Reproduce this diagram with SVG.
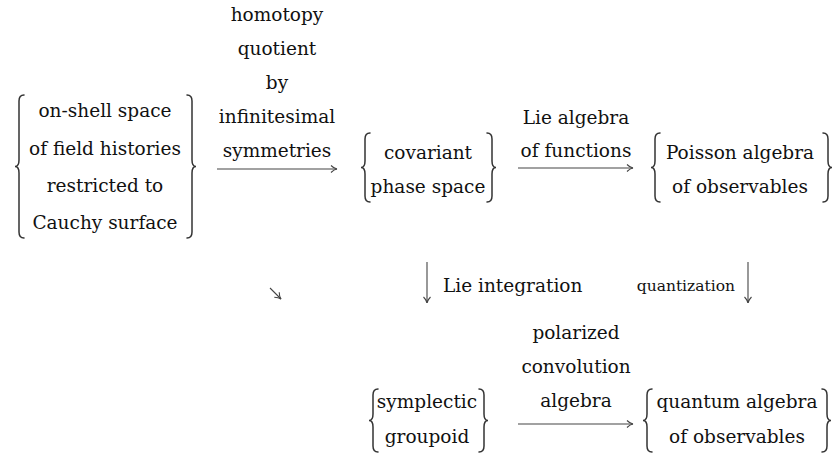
<svg xmlns="http://www.w3.org/2000/svg" width="838" height="455" viewBox="0 0 838 455">
<style>
  text { font-family: "DejaVu Serif", "Liberation Serif", serif; font-size: 18.5px; fill: #111; }
  .c { text-anchor: middle; }
  .sm { font-size: 15.5px; }
  .brace { fill: none; stroke: #333; stroke-width: 1.5; stroke-linecap: round; }
  .arr { fill: none; stroke: #444; stroke-width: 1.1; }
</style>
<defs>
  <marker id="ah" markerWidth="10" markerHeight="10" refX="8" refY="5" orient="auto" markerUnits="userSpaceOnUse">
    <path d="M2,1.5 Q5,4.5 8,5 Q5,5.5 2,8.5" fill="none" stroke="#444" stroke-width="1.1"/>
  </marker>
</defs>
<rect width="838" height="455" fill="#ffffff"/>

<g id="node-onshell">
  <path class="brace" d="M24,95 Q19,95 19,101 L19,160 Q19,166.5 15,166.5 Q19,166.5 19,173 L19,232 Q19,238 24,238"/>
  <path class="brace" d="M187,95 Q192,95 192,101 L192,160 Q192,166.5 196,166.5 Q192,166.5 192,173 L192,232 Q192,238 187,238"/>
  <text class="c" x="105" y="117">on-shell space</text>
  <text class="c" x="105" y="155">of field histories</text>
  <text class="c" x="105" y="192">restricted to</text>
  <text class="c" x="105" y="229">Cauchy surface</text>
</g>

<g id="node-covariant">
  <path class="brace" d="M370,133 Q365,133 365,139 L365,161 Q365,167.5 361,167.5 Q365,167.5 365,174 L365,196 Q365,202 370,202"/>
  <path class="brace" d="M487,133 Q492,133 492,139 L492,161 Q492,167.5 496,167.5 Q492,167.5 492,174 L492,196 Q492,202 487,202"/>
  <text class="c" x="428" y="159">covariant</text>
  <text class="c" x="428" y="193">phase space</text>
</g>

<g id="node-poisson">
  <path class="brace" d="M660,133 Q655,133 655,139 L655,161 Q655,167.5 651,167.5 Q655,167.5 655,174 L655,196 Q655,202 660,202"/>
  <path class="brace" d="M823,133 Q828,133 828,139 L828,161 Q828,167.5 832,167.5 Q828,167.5 828,174 L828,196 Q828,202 823,202"/>
  <text class="c" x="740" y="159">Poisson algebra</text>
  <text class="c" x="740" y="193">of observables</text>
</g>

<g id="node-symplectic">
  <path class="brace" d="M378,389 Q373,389 373,395 L373,414 Q373,420.5 369,420.5 Q373,420.5 373,427 L373,446 Q373,452 378,452"/>
  <path class="brace" d="M479,389 Q484,389 484,395 L484,414 Q484,420.5 488,420.5 Q484,420.5 484,427 L484,446 Q484,452 479,452"/>
  <text class="c" x="427" y="408">symplectic</text>
  <text class="c" x="427" y="443">groupoid</text>
</g>

<g id="node-quantum">
  <path class="brace" d="M652,389 Q647,389 647,395 L647,414 Q647,420.5 643,420.5 Q647,420.5 647,427 L647,446 Q647,452 652,452"/>
  <path class="brace" d="M822,389 Q827,389 827,395 L827,414 Q827,420.5 831,420.5 Q827,420.5 827,427 L827,446 Q827,452 822,452"/>
  <text class="c" x="737" y="408">quantum algebra</text>
  <text class="c" x="737" y="443">of observables</text>
</g>

<g id="connectors">
  <path class="arr" d="M217,169 L337,169" marker-end="url(#ah)"/>
  <path class="arr" d="M518,168 L633,168" marker-end="url(#ah)"/>
  <path class="arr" d="M518,424 L633,424" marker-end="url(#ah)"/>
  <path class="arr" d="M427,262 L427,303" marker-end="url(#ah)"/>
  <path class="arr" d="M748,262 L748,303" marker-end="url(#ah)"/>
  <path class="arr" d="M270,288 L281,299" marker-end="url(#ah)"/>
</g>

<g id="labels">
  <text class="c" x="277" y="21">homotopy</text>
  <text class="c" x="277" y="55">quotient</text>
  <text class="c" x="277" y="89">by</text>
  <text class="c" x="277" y="123">infinitesimal</text>
  <text class="c" x="277" y="157">symmetries</text>
  <text class="c" x="576" y="124">Lie algebra</text>
  <text class="c" x="576" y="157">of functions</text>
  <text x="443" y="292">Lie integration</text>
  <text class="sm" x="735" y="291" text-anchor="end">quantization</text>
  <text class="c" x="576" y="339">polarized</text>
  <text class="c" x="576" y="373">convolution</text>
  <text class="c" x="576" y="407">algebra</text>
</g>
</svg>
